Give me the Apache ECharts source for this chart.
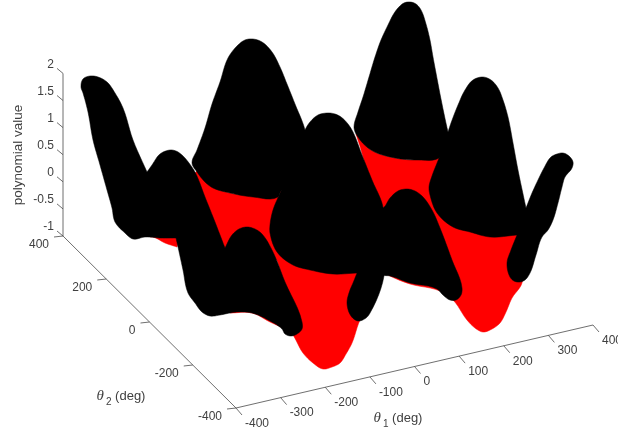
<!DOCTYPE html>
<html><head><meta charset="utf-8">
<style>html,body{margin:0;padding:0;background:#fff}#c{width:618px;height:435px}</style>
<script src="https://cdn.jsdelivr.net/npm/echarts@6/dist/echarts.min.js"></script>
</head><body><div id="c"></div>
<script>
// Axis tick values
const theta1Ticks = [-400,-300,-200,-100,0,100,200,300,400];
const theta2Ticks = [-400,-200,0,200,400];
const zTicks = [-1,-0.5,0,0.5,1,1.5,2];
const zTickLabels = ['-1','-0.5','0','0.5','1','1.5','2'];

// Visible outlines of the point cloud in the viewing plane
const redValleyBack = [[197,171],[213,187],[230,193],[253,196],[280,197],[281,190],[272,230],[280,260],[222,250],[190,180]];
const redValleyRight = [[356,134],[371,150],[395,158],[418,160],[439,157],[432,210],[400,220],[383,207]];
const redLobeFront = [[272,248],[277,252],[357,273],[372,300],[360,320],[352,343],[346,354],[340,363],[332,367],[323,369],[313,363],[303,353],[293,335],[285,325],[280,270]];
const redUnderHump = [[230,313],[252,313],[270,322],[283,328],[292,332],[285,300],[230,300]];
const redSliverLeft = [[150,237],[153,237],[165,243],[177,247],[180,235],[150,230]];
const redLobeRight = [[430,200],[520,230],[522,283],[512,298],[506,312],[500,323],[492,329],[483,332],[475,328],[467,320],[453,300],[440,291],[410,284],[390,276],[380,270],[420,230]];

const blackRidgeLeft = [[81,87],[83,79],[90,76],[98,77],[107,82],[115,93],[123,108],[133,140],[147,172],[152,165],[160,154],[170,150],[176,151],[182,155],[189,163],[195,172],[205,197],[215,222],[225,248],[232,235],[239,229],[247,227],[255,229],[262,234],[272,250],[285,282],[302,322],[302,329],[297,334],[291,336],[285,334],[282,329],[270,321],[252,313],[238,312],[230,313],[220,315],[210,316],[202,312],[195,303],[188,293],[183,270],[178,247],[176,238],[160,238],[145,237],[133,239],[125,233],[115,222],[112,208],[107,190],[100,165],[93,140],[88,112],[83,93]];
const blackPeakBack = [[192,163],[197,150],[205,128],[212,104],[220,82],[228,58],[237,46],[245,40],[253,39],[262,42],[272,52],[280,67],[287,84],[295,104],[305,130],[310,170],[281,191],[278,197],[253,197],[230,193],[213,188],[205,182],[197,172]];
const blackPeakCentre = [[300,145],[305,130],[310,122],[318,115],[328,113],[335,114],[341,117],[348,124],[353,132],[362,155],[372,180],[383,207],[384,276],[370,313],[366,318],[358,321],[351,316],[347,303],[350,290],[353,283],[357,273],[333,274],[310,270],[293,265],[277,252],[270,233],[270,225],[273,210],[281,191]];
const blackHumpRight = [[383,208],[390,198],[398,191],[407,189],[415,191],[423,197],[432,210],[440,228],[452,260],[462,288],[461,295],[456,300],[450,300],[443,295],[437,289],[410,283],[390,276],[382,275],[360,260],[370,210]];
const blackPeakTop = [[354,127],[358,112],[363,97],[369,77],[375,57],[381,40],[388,25],[393,15],[398,8],[404,3],[410,2],[416,4],[421,10],[426,24],[430,40],[433,57],[436,73],[442,104],[448,132],[450,140],[439,158],[418,160],[395,158],[371,150],[356,134]];
const blackRidgeRight = [[448,132],[451,123],[458,105],[465,90],[473,80],[483,77],[491,80],[498,88],[503,100],[508,117],[513,143],[518,170],[526,208],[532,193],[538,180],[544,168],[551,157],[557,154],[563,153],[569,156],[573,162],[572,168],[565,177],[562,187],[558,203],[553,220],[548,230],[542,237],[536,255],[530,273],[525,280],[520,282],[514,281],[510,277],[507,263],[511,250],[517,235],[490,237],[470,232],[453,227],[437,213],[430,195],[429,187],[432,176],[439,158]];

const reds = [redValleyBack, redValleyRight, redLobeFront, redUnderHump, redSliverLeft, redLobeRight];
const blacks = [blackPeakBack, blackPeakTop, blackPeakCentre, blackHumpRight, blackRidgeLeft, blackRidgeRight];

// Linear view of the box: corner at theta1=-400, theta2=-400, z=-1
const corner = [236,408];
const perTheta1 = [(593-236)/800, (325-408)/800];
const perTheta2 = [(63-236)/800, (236-408)/800];
const perZ = -54.2;
function view(t1,t2,z){
  return [corner[0]+(t1+400)*perTheta1[0]+(t2+400)*perTheta2[0],
          corner[1]+(t1+400)*perTheta1[1]+(t2+400)*perTheta2[1]+(z+1)*perZ];
}
const ink = '#4a4a4a', textInk = '#404040', font = '"Liberation Sans", Arial, sans-serif';

const segments = [];
const addSeg = (a,b)=>segments.push([a[0],a[1],b[0],b[1]]);
addSeg(view(-400,-400,-1), view(400,-400,-1));
addSeg(view(-400,-400,-1), view(-400,400,-1));
addSeg(view(-400,400,-1), view(-400,400,2));
theta1Ticks.forEach(t=>{const p=view(t,-400,-1); addSeg(p,[p[0]+6,p[1]+7]);});
theta2Ticks.forEach(t=>{const p=view(-400,t,-1); addSeg(p,[p[0]-9,p[1]+1]);});
zTicks.forEach(t=>{const p=view(-400,400,t); addSeg(p,[p[0]-6,p[1]-5]);});

const labels = [];
theta1Ticks.forEach(t=>{const p=view(t,-400,-1); labels.push({x:p[0]+9,y:p[1]+15.5,text:String(t),align:'left'});});
theta2Ticks.forEach(t=>{const p=view(-400,t,-1); labels.push({x:p[0]-14,y:p[1]+9,text:String(t),align:'right'});});
zTicks.forEach((t,i)=>{const p=view(-400,400,t); labels.push({x:54,y:p[1]-9,text:zTickLabels[i],align:'right'});});

// Drawing-only rounding of an outline: Hermite arcs between the read points, sharp where the outline turns hard
function rounded(pts){
  const n=pts.length, unit=(a,b)=>{const dx=b[0]-a[0],dy=b[1]-a[1],l=Math.hypot(dx,dy)||1;return [dx/l,dy/l];};
  const tang=pts.map((p,i)=>{
    const u=unit(pts[(i+n-1)%n],p), v=unit(p,pts[(i+1)%n]);
    const dot=u[0]*v[0]+u[1]*v[1];
    if(dot<0.35) return null;
    return unit([0,0],[u[0]+v[0],u[1]+v[1]]);
  });
  const out=[];
  for(let i=0;i<n;i++){
    const a=pts[i], b=pts[(i+1)%n], l=Math.hypot(b[0]-a[0],b[1]-a[1])/3, d=unit(a,b);
    const ta=tang[i]||d, tb=tang[(i+1)%n]||d;
    const c1=[a[0]+ta[0]*l,a[1]+ta[1]*l], c2=[b[0]-tb[0]*l,b[1]-tb[1]*l];
    for(let k=0;k<6;k++){
      const s=k/6, r=1-s;
      out.push([r*r*r*a[0]+3*r*r*s*c1[0]+3*r*s*s*c2[0]+s*s*s*b[0],
                r*r*r*a[1]+3*r*r*s*c1[1]+3*r*s*s*c2[1]+s*s*s*b[1]]);
    }
  }
  return out;
}
function polygonSeries(points,color){
  const outline=rounded(points);
  return {type:'custom',coordinateSystem:'cartesian2d',silent:true,clip:false,animation:false,
    data:points,
    renderItem:(params,api)=> params.dataIndex!==0 ? null : ({
      type:'polygon',
      shape:{points:outline.map(p=>api.coord(p))},
      style:{fill:color,stroke:color,lineWidth:0.5}
    })};
}
function axisTitle(x,y,sub){
  return {x,y,text:'{i|θ}{s|'+sub+'}{t| (deg)}'};
}
const richStyles = {
  i:{fontFamily:'"Liberation Serif",serif',fontStyle:'italic',fontSize:15,fill:textInk,color:textInk},
  s:{fontFamily:font,fontSize:10,fill:textInk,color:textInk,padding:[13,0,0,2]},
  t:{fontFamily:font,fontSize:13,fill:textInk,color:textInk}
};
const titles = [axisTitle(398,418,'1'),axisTitle(121,396,'2')];

const series = [
  ...reds.map(p=>polygonSeries(p,'#ff0000')),
  ...blacks.map(p=>polygonSeries(p,'#000000')),
  {type:'custom',coordinateSystem:'cartesian2d',silent:true,clip:false,animation:false,z:5,
   data:segments,
   renderItem:(params,api)=>{
     const s=segments[params.dataIndex], a=api.coord([s[0],s[1]]), b=api.coord([s[2],s[3]]);
     return {type:'line',shape:{x1:a[0],y1:a[1],x2:b[0],y2:b[1]},style:{stroke:ink,lineWidth:0.8}};
   }},
  {type:'custom',coordinateSystem:'cartesian2d',silent:true,clip:false,animation:false,z:6,
   data:labels.map(l=>[l.x,l.y]),
   renderItem:(params,api)=>{
     const l=labels[params.dataIndex], c=api.coord([l.x,l.y]);
     return {type:'text',x:c[0],y:c[1],style:{text:l.text,align:l.align,verticalAlign:'middle',fontFamily:font,fontSize:12,fill:textInk}};
   }},
  {type:'custom',coordinateSystem:'cartesian2d',silent:true,clip:false,animation:false,z:6,
   data:titles.map(l=>[l.x,l.y]),
   renderItem:(params,api)=>{
     const l=titles[params.dataIndex], c=api.coord([l.x,l.y]);
     return {type:'text',x:c[0],y:c[1],style:{text:l.text,rich:richStyles,align:'center',verticalAlign:'middle',fontFamily:font,fontSize:13,fill:textInk}};
   }},
  {type:'custom',coordinateSystem:'cartesian2d',silent:true,clip:false,animation:false,z:6,
   data:[[18,155]],
   renderItem:(params,api)=>{
     const c=api.coord([18,155]);
     return {type:'text',x:c[0],y:c[1],rotation:Math.PI/2,style:{text:'polynomial value',align:'center',verticalAlign:'middle',fontFamily:font,fontSize:13.5,fill:textInk}};
   }}
];
const chart = echarts.init(document.getElementById('c'),null,{renderer:'canvas'});
chart.setOption({
  animation:false,backgroundColor:'#fff',
  grid:{left:0,right:0,top:0,bottom:0},
  xAxis:{type:'value',min:0,max:618,show:false},
  yAxis:{type:'value',min:0,max:435,inverse:true,show:false},
  series
});
</script></body></html>
